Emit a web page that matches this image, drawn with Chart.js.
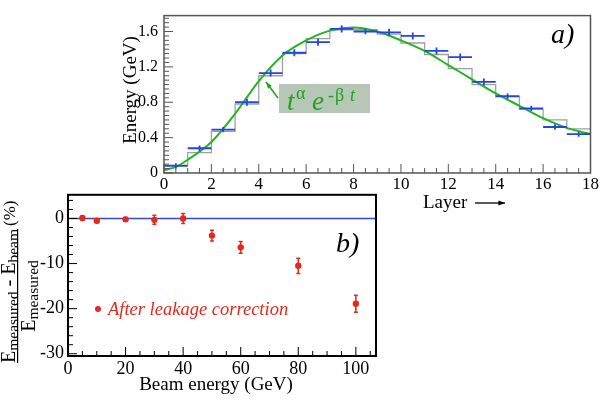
<!DOCTYPE html>
<html>
<head>
<meta charset="utf-8">
<script src="https://cdn.jsdelivr.net/npm/chart.js@4/dist/chart.umd.min.js"></script>
<style>
  html, body { margin: 0; padding: 0; background: #fff; }
  #wrap { position: relative; width: 600px; height: 402px; }
  canvas { position: absolute; left: 0; }
  .fontprobe { position: absolute; left: -999px; top: 0; font-family: 'Liberation Serif'; }
</style>
</head>
<body>
<div id="wrap">
  <canvas id="topChart" width="600" height="215" style="top:0;width:600px;height:215px"></canvas>
  <canvas id="bottomChart" width="600" height="222" style="top:180px;width:600px;height:222px"></canvas>
</div>
<span class="fontprobe">Energy 0123</span><span class="fontprobe" style="font-style:italic">Energy</span>
<script>
// --- panel a): longitudinal profile ---
const layerEdges = [0, 1, 2, 3, 4, 5, 6, 7, 8, 9, 10, 11, 12, 13, 14, 15, 16, 17];
const layerEnergy = [0.08, 0.28, 0.49, 0.80, 1.13, 1.36, 1.48, 1.63, 1.60, 1.59, 1.55, 1.38, 1.31, 1.03, 0.87, 0.73, 0.52, 0.44];
const layerErr = [0.03, 0.03, 0.03, 0.04, 0.04, 0.04, 0.04, 0.04, 0.03, 0.04, 0.04, 0.04, 0.04, 0.04, 0.03, 0.03, 0.03, 0.03];
const simEnergy = [0.09, 0.23, 0.47, 0.78, 1.10, 1.35, 1.52, 1.62, 1.62, 1.57, 1.47, 1.34, 1.18, 1.00, 0.86, 0.72, 0.60, 0.50];
const fitLayer = [0, 0.5, 1, 2, 3, 4, 5, 6, 7, 8, 9, 10, 11, 12, 13, 14, 15, 16, 17, 18];
const fitEnergy = [0.03, 0.07, 0.15, 0.35, 0.67, 1.04, 1.33, 1.50, 1.61, 1.645, 1.60, 1.50, 1.38, 1.22, 1.06, 0.90, 0.76, 0.62, 0.51, 0.44];
const layerTicks = [0, 2, 4, 6, 8, 10, 12, 14, 16, 18];
const energyTicks = [0, 0.4, 0.8, 1.2, 1.6];

// --- panel b): linearity ---
const beamEnergy = [5, 10, 20, 30, 40, 50, 60, 80, 100];
const deviation = [0.1, -0.5, -0.2, -0.3, 0.0, -3.8, -6.4, -10.5, -18.9];
const deviationErr = [0.4, 0.4, 0.4, 1.0, 1.1, 1.2, 1.3, 1.7, 1.9];
const beamTicks = [0, 20, 40, 60, 80, 100];
const devTicks = [-30, -20, -10, 0];

const SERIF = "'Liberation Serif', 'Times New Roman', 'DejaVu Serif', serif";
Chart.defaults.font.family = SERIF;
Chart.defaults.color = '#000';

function range(a, b, step) {
  const out = [];
  for (let v = a; v <= b + 1e-9; v += step) out.push(Math.round(v * 1000) / 1000);
  return out;
}
function isIn(v, arr) { return arr.some(m => Math.abs(m - v) < 1e-6); }

// ROOT-like frame with ticks pointing inwards
function drawFrame(chart, o) {
  const { ctx, chartArea: a, scales: { x, y } } = chart;
  ctx.save();
  ctx.strokeStyle = o.color;
  ctx.lineWidth = 1;
  ctx.beginPath();
  o.xMinor.forEach(v => {
    const px = x.getPixelForValue(v);
    const len = isIn(v, o.xMajor) ? o.major : o.minor;
    ctx.moveTo(px, a.bottom); ctx.lineTo(px, a.bottom - len);
  });
  o.yMinor.forEach(v => {
    const py = y.getPixelForValue(v);
    const len = isIn(v, o.yMajor) ? o.major : o.minor;
    ctx.moveTo(a.left, py); ctx.lineTo(a.left + len, py);
  });
  ctx.stroke();
  ctx.lineWidth = o.lw;
  ctx.strokeRect(a.left, a.top, a.width, a.height);
  ctx.restore();
}

function arrow(ctx, x1, y1, x2, y2, head) {
  const ang = Math.atan2(y2 - y1, x2 - x1);
  ctx.beginPath();
  ctx.moveTo(x1, y1); ctx.lineTo(x2, y2);
  ctx.stroke();
  ctx.beginPath();
  ctx.moveTo(x2, y2);
  ctx.lineTo(x2 - head * Math.cos(ang - 0.35), y2 - head * Math.sin(ang - 0.35));
  ctx.lineTo(x2 - head * Math.cos(ang + 0.35), y2 - head * Math.sin(ang + 0.35));
  ctx.closePath();
  ctx.fill();
}

// text pieces [font, text, baseline shift] laid out along one line
function runWidth(ctx, parts) {
  let w = 0;
  parts.forEach(p => { ctx.font = p[0]; w += ctx.measureText(p[1]).width; });
  return w;
}
function drawRun(ctx, parts, u, v) {
  parts.forEach(p => { ctx.font = p[0]; ctx.fillText(p[1], u, v + p[2]); u += ctx.measureText(p[1]).width; });
}

const topPlugin = {
  id: 'topPanel',
  afterDatasetsDraw(chart) {
    const { ctx, scales: { x, y } } = chart;
    // data crosses: bin width horizontally, error vertically
    ctx.save();
    ctx.strokeStyle = '#2445e0';
    ctx.lineWidth = 1.8;
    ctx.beginPath();
    layerEdges.forEach((l, i) => {
      const yy = y.getPixelForValue(layerEnergy[i]);
      ctx.moveTo(x.getPixelForValue(l), yy);
      ctx.lineTo(x.getPixelForValue(l + 1), yy);
      const xc = x.getPixelForValue(l + 0.5);
      ctx.moveTo(xc, y.getPixelForValue(layerEnergy[i] - layerErr[i]));
      ctx.lineTo(xc, y.getPixelForValue(layerEnergy[i] + layerErr[i]));
    });
    ctx.stroke();
    ctx.restore();
  },
  afterDraw(chart) {
    const ctx = chart.ctx;
    drawFrame(chart, {
      color: '#555', lw: 1.5, major: 9, minor: 5,
      xMajor: layerTicks, xMinor: range(0, 18, 0.5),
      yMajor: energyTicks, yMinor: range(0, 1.75, 0.05)
    });
    ctx.save();
    ctx.fillStyle = '#000';
    // y title
    ctx.save();
    ctx.translate(136, 90);
    ctx.rotate(-Math.PI / 2);
    ctx.font = '19px ' + SERIF;
    ctx.textAlign = 'center';
    ctx.fillText('Energy (GeV)', 0, 0);
    ctx.restore();
    // x title with arrow
    ctx.font = '19px ' + SERIF;
    ctx.textAlign = 'left';
    ctx.fillText('Layer', 423, 208);
    ctx.strokeStyle = '#000';
    ctx.lineWidth = 1.3;
    arrow(ctx, 475, 203, 505, 203, 7);
    // panel tag
    ctx.font = 'italic 28px ' + SERIF;
    ctx.fillText('a)', 551, 43);
    // fit function label
    ctx.fillStyle = '#b6c7b6';
    ctx.fillRect(279, 84, 91, 29);
    ctx.fillStyle = '#1fa21f';
    ctx.strokeStyle = '#1fa21f';
    ctx.lineWidth = 1.5;
    arrow(ctx, 278, 98, 266, 82, 7);
    ctx.font = 'italic 27px ' + SERIF;
    ctx.fillText('t', 287, 110);
    ctx.font = '18px ' + SERIF;
    ctx.fillText('\u03B1', 296, 99);
    ctx.font = 'italic 27px ' + SERIF;
    ctx.fillText('e', 312, 110);
    ctx.font = '18px ' + SERIF;
    ctx.fillText('-', 328, 101);
    ctx.fillText('\u03B2', 335, 101);
    ctx.font = 'italic 18px ' + SERIF;
    ctx.fillText('t', 350, 101);
    ctx.restore();
  }
};

const bottomPlugin = {
  id: 'bottomPanel',
  afterDatasetsDraw(chart) {
    const { ctx, scales: { x, y } } = chart;
    ctx.save();
    ctx.strokeStyle = '#e8281c';
    ctx.lineWidth = 1.5;
    ctx.beginPath();
    beamEnergy.forEach((e, i) => {
      const xc = x.getPixelForValue(e);
      const y1 = y.getPixelForValue(deviation[i] - deviationErr[i]);
      const y2 = y.getPixelForValue(deviation[i] + deviationErr[i]);
      ctx.moveTo(xc, y1); ctx.lineTo(xc, y2);
      ctx.moveTo(xc - 2, y1); ctx.lineTo(xc + 2, y1);
      ctx.moveTo(xc - 2, y2); ctx.lineTo(xc + 2, y2);
    });
    ctx.stroke();
    ctx.restore();
  },
  afterDraw(chart) {
    const ctx = chart.ctx;
    drawFrame(chart, {
      color: '#000', lw: 2, major: 9, minor: 5,
      xMajor: beamTicks, xMinor: range(0, 105, 5),
      yMajor: devTicks, yMinor: range(-30, 4, 2)
    });
    ctx.save();
    ctx.fillStyle = '#000';
    ctx.font = '19px ' + SERIF;
    ctx.textAlign = 'center';
    ctx.fillText('Beam energy (GeV)', 216, 210);
    // y title: fraction, rotated
    ctx.save();
    ctx.translate(0, 116);
    ctx.rotate(-Math.PI / 2);
    ctx.textAlign = 'left';
    const big = '20px ' + SERIF, small = '15.5px ' + SERIF;
    const num = [[big, 'E', 0], [small, 'measured', 2.5], [big, ' - ', 0], [big, 'E', 0], [small, 'beam', 2.5]];
    const den = [[big, 'E', 0], [small, 'measured', 2.5]];
    const nw = runWidth(ctx, num), dw = runWidth(ctx, den);
    drawRun(ctx, num, -nw / 2, 15);
    ctx.fillRect(-nw / 2, 17, nw, 1.2);
    drawRun(ctx, den, -dw / 2, 35);
    ctx.font = '17px ' + SERIF;
    ctx.fillText('(%)', nw / 2 + 3, 15);
    ctx.restore();
    // legend
    ctx.fillStyle = '#e8281c';
    ctx.beginPath();
    ctx.arc(98, 129, 3, 0, Math.PI * 2);
    ctx.fill();
    ctx.font = 'italic 18.5px ' + SERIF;
    ctx.textAlign = 'left';
    ctx.fillText('After leakage correction', 108, 135);
    // panel tag
    ctx.fillStyle = '#000';
    ctx.font = 'italic 28px ' + SERIF;
    ctx.fillText('b)', 336, 72);
    ctx.restore();
  }
};

function tickFont(size) { return { family: SERIF, size: size }; }

function buildCharts() {
  new Chart(document.getElementById('topChart'), {
    type: 'line',
    data: {
      datasets: [
        {
          label: 'fit',
          data: fitLayer.map((l, i) => ({ x: l, y: fitEnergy[i] })),
          borderColor: '#22b422',
          borderWidth: 2,
          pointRadius: 0,
          cubicInterpolationMode: 'monotone',
          order: 1
        },
        {
          label: 'simulation',
          data: layerEdges.map((l, i) => ({ x: l, y: simEnergy[i] })).concat([{ x: 18, y: simEnergy[simEnergy.length - 1] }]),
          borderColor: '#a0a0a0',
          borderWidth: 1.3,
          pointRadius: 0,
          stepped: 'before',
          order: 2
        }
      ]
    },
    options: {
      responsive: false,
      animation: false,
      layout: { padding: { left: 124, right: 6, top: 6, bottom: 12 } },
      plugins: { legend: { display: false }, tooltip: { enabled: false } },
      scales: {
        x: {
          type: 'linear', min: 0, max: 18,
          grid: { display: false, drawTicks: false }, border: { display: false },
          afterBuildTicks: s => { s.ticks = layerTicks.map(v => ({ value: v })); },
          afterFit: s => { s.height = 30; },
          ticks: { color: '#000', font: tickFont(17), padding: 1, maxRotation: 0, autoSkip: false }
        },
        y: {
          type: 'linear', min: 0, max: 1.78,
          grid: { display: false, drawTicks: false }, border: { display: false },
          afterBuildTicks: s => { s.ticks = energyTicks.map(v => ({ value: v })); },
          afterFit: s => { s.width = 40; },
          ticks: {
            color: '#000', font: tickFont(16), padding: 6, autoSkip: false,
            callback: v => (v === 0 ? '0' : v.toFixed(1))
          }
        }
      }
    },
    plugins: [topPlugin]
  });

  new Chart(document.getElementById('bottomChart'), {
    type: 'line',
    data: {
      datasets: [
        {
          label: 'points',
          data: beamEnergy.map((e, i) => ({ x: e, y: deviation[i] })),
          showLine: false,
          pointRadius: 3.2,
          pointBackgroundColor: '#e8281c',
          pointBorderWidth: 0,
          order: 1
        },
        {
          label: 'zero',
          data: [{ x: 0, y: 0 }, { x: 107, y: 0 }],
          borderColor: '#3446dc',
          borderWidth: 1.5,
          pointRadius: 0,
          order: 2
        }
      ]
    },
    options: {
      responsive: false,
      animation: false,
      layout: { padding: { left: 28, right: 224, top: 14, bottom: 16 } },
      plugins: { legend: { display: false }, tooltip: { enabled: false } },
      scales: {
        x: {
          type: 'linear', min: 0, max: 107,
          grid: { display: false, drawTicks: false }, border: { display: false },
          afterBuildTicks: s => { s.ticks = beamTicks.map(v => ({ value: v })); },
          afterFit: s => { s.height = 30; },
          ticks: { color: '#000', font: tickFont(18), padding: 2, maxRotation: 0, autoSkip: false }
        },
        y: {
          type: 'linear', min: -30.5, max: 5.25,
          grid: { display: false, drawTicks: false }, border: { display: false },
          afterBuildTicks: s => { s.ticks = devTicks.map(v => ({ value: v })); },
          afterFit: s => { s.width = 40; },
          ticks: { color: '#000', font: tickFont(18), padding: 4, autoSkip: false }
        }
      }
    },
    plugins: [bottomPlugin]
  });
}

Promise.all([
  document.fonts.load("16px 'Liberation Serif'"),
  document.fonts.load("italic 16px 'Liberation Serif'")
]).catch(() => {}).then(buildCharts);
</script>
</body>
</html>
